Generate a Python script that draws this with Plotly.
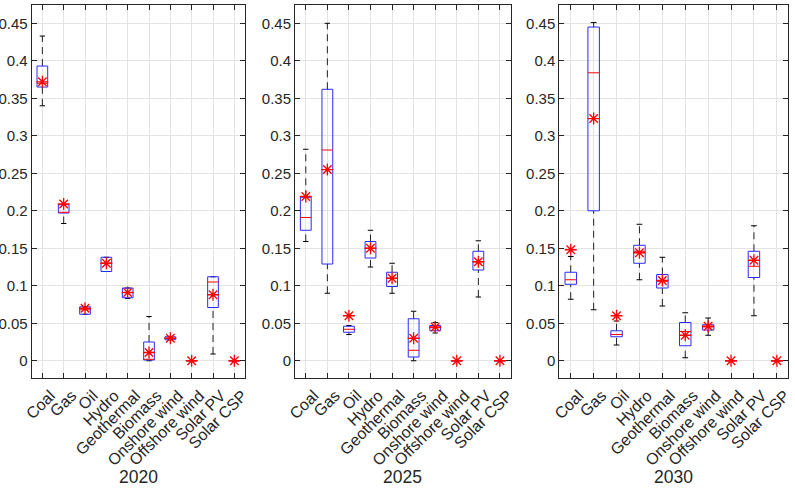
import plotly.graph_objects as go

categories = ["Coal", "Gas", "Oil", "Hydro", "Geothermal", "Biomass",
              "Onshore wind", "Offshore wind", "Solar PV", "Solar CSP"]
years = ["2020", "2025", "2030"]
y_tick_vals = [0, 0.05, 0.1, 0.15, 0.2, 0.25, 0.3, 0.35, 0.4, 0.45]
y_tick_text = ["0", "0.05", "0.1", "0.15", "0.2", "0.25", "0.3", "0.35", "0.4", "0.45"]

# 2020
lo_2020 = [0.340, 0.183, 0.062, 0.119, 0.083, 0.000, 0.028, 0, 0.009, 0]
q1_2020 = [0.365, 0.197, 0.062, 0.119, 0.084, 0.001, 0.028, 0, 0.071, 0]
md_2020 = [0.370, 0.198, 0.068, 0.130, 0.091, 0.002, 0.030, 0, 0.105, 0]
q3_2020 = [0.393, 0.208, 0.072, 0.138, 0.097, 0.025, 0.032, 0, 0.112, 0]
up_2020 = [0.433, 0.208, 0.072, 0.138, 0.097, 0.059, 0.032, 0, 0.112, 0]
mean_2020 = [0.372, 0.209, 0.070, 0.130, 0.091, 0.011, 0.030, 0, 0.088, 0]

# 2025
lo_2025 = [0.159, 0.090, 0.035, 0.125, 0.090, 0.000, 0.037, 0, 0.085, 0]
q1_2025 = [0.174, 0.129, 0.038, 0.137, 0.099, 0.005, 0.040, 0, 0.121, 0]
md_2025 = [0.191, 0.281, 0.042, 0.150, 0.110, 0.014, 0.044, 0, 0.132, 0]
q3_2025 = [0.218, 0.362, 0.046, 0.159, 0.118, 0.056, 0.047, 0, 0.146, 0]
up_2025 = [0.282, 0.450, 0.047, 0.174, 0.130, 0.066, 0.051, 0, 0.160, 0]
mean_2025 = [0.219, 0.255, 0.060, 0.150, 0.110, 0.030, 0.045, 0, 0.132, 0]

# 2030
lo_2030 = [0.082, 0.068, 0.021, 0.108, 0.073, 0.004, 0.034, 0, 0.060, 0]
q1_2030 = [0.102, 0.200, 0.032, 0.130, 0.097, 0.020, 0.041, 0, 0.111, 0]
md_2030 = [0.108, 0.384, 0.035, 0.146, 0.106, 0.039, 0.045, 0, 0.126, 0]
q3_2030 = [0.118, 0.445, 0.040, 0.154, 0.115, 0.051, 0.048, 0, 0.146, 0]
up_2030 = [0.139, 0.451, 0.053, 0.182, 0.138, 0.064, 0.057, 0, 0.180, 0]
mean_2030 = [0.148, 0.323, 0.060, 0.144, 0.107, 0.034, 0.046, 0, 0.134, 0]

panels = [
    (lo_2020, q1_2020, md_2020, q3_2020, up_2020, mean_2020),
    (lo_2025, q1_2025, md_2025, q3_2025, up_2025, mean_2025),
    (lo_2030, q1_2030, md_2030, q3_2030, up_2030, mean_2030),
]

W, H = 795, 488
x_domains = [(31.7 / W, 245.0 / W), (295.0 / W, 510.7 / W), (559.3 / W, 788.3 / W)]
y_domain = ((H - 378.0) / H, (H - 5.3) / H)

BOX_HW = 0.25
CAP_HW = 0.125
FONT = "Liberation Sans, Arial, Helvetica, sans-serif"
AX_COLOR = "#262626"

fig = go.Figure()

for p, (lo, q1, md, q3, up, mn) in enumerate(panels):
    xa = "x" if p == 0 else f"x{p + 1}"
    ya = "y" if p == 0 else f"y{p + 1}"
    pos = list(range(1, len(categories) + 1))

    wx, wy = [], []      # dashed whiskers
    cx, cy = [], []      # caps
    bx, by = [], []      # boxes
    mx, my = [], []      # medians
    for i, c in enumerate(pos):
        wx += [c, c, None, c, c, None]
        wy += [q3[i], up[i], None, lo[i], q1[i], None]
        cx += [c - CAP_HW, c + CAP_HW, None, c - CAP_HW, c + CAP_HW, None]
        cy += [up[i], up[i], None, lo[i], lo[i], None]
        bx += [c - BOX_HW, c + BOX_HW, c + BOX_HW, c - BOX_HW, c - BOX_HW, None]
        by += [q1[i], q1[i], q3[i], q3[i], q1[i], None]
        mx += [c - BOX_HW, c + BOX_HW, None]
        my += [md[i], md[i], None]

    fig.add_trace(go.Scatter(x=wx, y=wy, mode="lines", xaxis=xa, yaxis=ya,
                             line=dict(color="#222222", width=1, dash="7px,5px"),
                             hoverinfo="skip", showlegend=False))
    fig.add_trace(go.Scatter(x=cx, y=cy, mode="lines", xaxis=xa, yaxis=ya,
                             line=dict(color="#000000", width=1),
                             hoverinfo="skip", showlegend=False))
    fig.add_trace(go.Scatter(x=bx, y=by, mode="lines", xaxis=xa, yaxis=ya,
                             line=dict(color="#2a2aff", width=1),
                             hoverinfo="skip", showlegend=False))
    fig.add_trace(go.Scatter(x=mx, y=my, mode="lines", xaxis=xa, yaxis=ya,
                             line=dict(color="#ff0000", width=1),
                             hoverinfo="skip", showlegend=False))
    fig.add_trace(go.Scatter(x=pos, y=mn, mode="markers", xaxis=xa, yaxis=ya,
                             marker=dict(symbol="asterisk-open", size=10, color="#ff0000",
                                         line=dict(color="#ff0000", width=1.3)),
                             showlegend=False))

    xkey = "xaxis" if p == 0 else f"xaxis{p + 1}"
    ykey = "yaxis" if p == 0 else f"yaxis{p + 1}"
    fig.layout[xkey] = dict(
        domain=list(x_domains[p]), anchor=ya, range=[0.5, 10.5],
        tickmode="array", tickvals=pos, ticktext=categories, tickangle=-45,
        ticks="inside", ticklen=5, tickcolor=AX_COLOR,
        ticklabelstandoff=1, ticklabelshift=8,
        showline=True, linecolor=AX_COLOR, linewidth=1, mirror="ticks",
        showgrid=True, gridcolor="#e3e3e3", gridwidth=1, zeroline=False,
        automargin=False,
        tickfont=dict(family=FONT, size=16, color=AX_COLOR),
    )
    fig.layout[ykey] = dict(
        domain=list(y_domain), anchor=xa, range=[-0.023, 0.474],
        tickmode="array", tickvals=y_tick_vals, ticktext=y_tick_text,
        ticks="inside", ticklen=5, tickcolor=AX_COLOR,
        showline=True, linecolor=AX_COLOR, linewidth=1, mirror="ticks",
        showgrid=True, gridcolor="#e3e3e3", gridwidth=1, zeroline=False,
        automargin=False,
        tickfont=dict(family=FONT, size=15, color=AX_COLOR),
    )
    fig.add_annotation(text=years[p], xref="paper", yref="paper",
                       x=(x_domains[p][0] + x_domains[p][1]) / 2, y=0,
                       xanchor="center", yanchor="bottom", showarrow=False,
                       borderpad=0, font=dict(family=FONT, size=17.5, color=AX_COLOR))

fig.update_layout(
    width=W, height=H, margin=dict(l=0, r=0, t=0, b=0, autoexpand=False),
    paper_bgcolor="white", plot_bgcolor="white",
)

fig.write_html("out.html")
